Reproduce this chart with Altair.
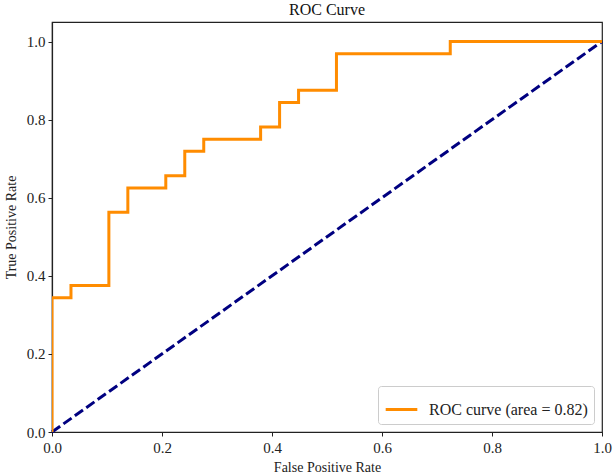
import altair as alt
import pandas as pd

# ROC curve corner points
fpr = [0.0, 0.0, 0.0345, 0.0345, 0.1034, 0.1034, 0.1379, 0.1379, 0.2069, 0.2069,
       0.2414, 0.2414, 0.2759, 0.2759, 0.3793, 0.3793, 0.4138, 0.4138, 0.4483, 0.4483,
       0.5172, 0.5172, 0.7241, 0.7241, 1.0]
tpr = [0.0, 0.34375, 0.34375, 0.375, 0.375, 0.5625, 0.5625, 0.625, 0.625, 0.65625,
       0.65625, 0.71875, 0.71875, 0.75, 0.75, 0.78125, 0.78125, 0.84375, 0.84375, 0.875,
       0.875, 0.96875, 0.96875, 1.0, 1.0]
label = "ROC curve (area = 0.82)"
diag_x = [0.0, 1.0]
diag_y = [0.0, 1.0]
tick_values = [0, 0.2, 0.4, 0.6, 0.8, 1.0]

FONT = "Liberation Serif"

roc = pd.DataFrame({"fpr": fpr, "tpr": tpr, "series": [label] * len(fpr), "order": list(range(len(fpr)))})
diag = pd.DataFrame({"fpr": diag_x, "tpr": diag_y})

xscale = alt.Scale(domain=[0, 1.0], nice=False, zero=False)
yscale = alt.Scale(domain=[0, 1.05], nice=False, zero=False)

common = dict(grid=False, tickSize=4, labelFont=FONT, titleFont=FONT, labelFontSize=15,
              titleFontSize=14, titleFontWeight="normal", labelColor="#222", titleColor="#222",
              domainColor="#222", tickColor="#222", domainWidth=1.2, format=".1f",
              values=tick_values, labelFlush=False, labelOverlap=False)

xaxis = alt.Axis(title="False Positive Rate", labelPadding=4, titlePadding=5, **common)
yaxis = alt.Axis(title="True Positive Rate", labelPadding=3, titlePadding=8, **common)

line = alt.Chart(roc).mark_line(strokeWidth=3, clip=True).encode(
    x=alt.X("fpr:Q", scale=xscale, axis=xaxis),
    y=alt.Y("tpr:Q", scale=yscale, axis=yaxis),
    order="order:Q",
    color=alt.Color("series:N", scale=alt.Scale(domain=[label], range=["#FF8C00"]),
                    legend=alt.Legend(title=None, orient="bottom-right", offset=8,
                                      symbolType="stroke", symbolSize=1000, symbolStrokeWidth=3,
                                      labelFontSize=16, labelFont=FONT, labelColor="#222",
                                      labelOffset=10,
                                      strokeColor="#cccccc", cornerRadius=3, padding=6,
                                      fillColor="white")),
)

dline = alt.Chart(diag).mark_line(strokeWidth=3, strokeDash=[10, 4], color="#000080").encode(
    x=alt.X("fpr:Q", scale=xscale),
    y=alt.Y("tpr:Q", scale=yscale),
)

chart = alt.layer(dline, line).properties(
    width=550, height=410,
    title=alt.TitleParams("ROC Curve", font=FONT, fontSize=16, fontWeight="normal", color="#111", offset=4),
    autosize=alt.AutoSizeParams(type="none"),
    padding={"left": 52, "top": 22, "right": 11, "bottom": 44},
).configure_view(stroke="#222", strokeWidth=1.2)

chart.save("out.html", embed_options={"renderer": "svg", "actions": False})
